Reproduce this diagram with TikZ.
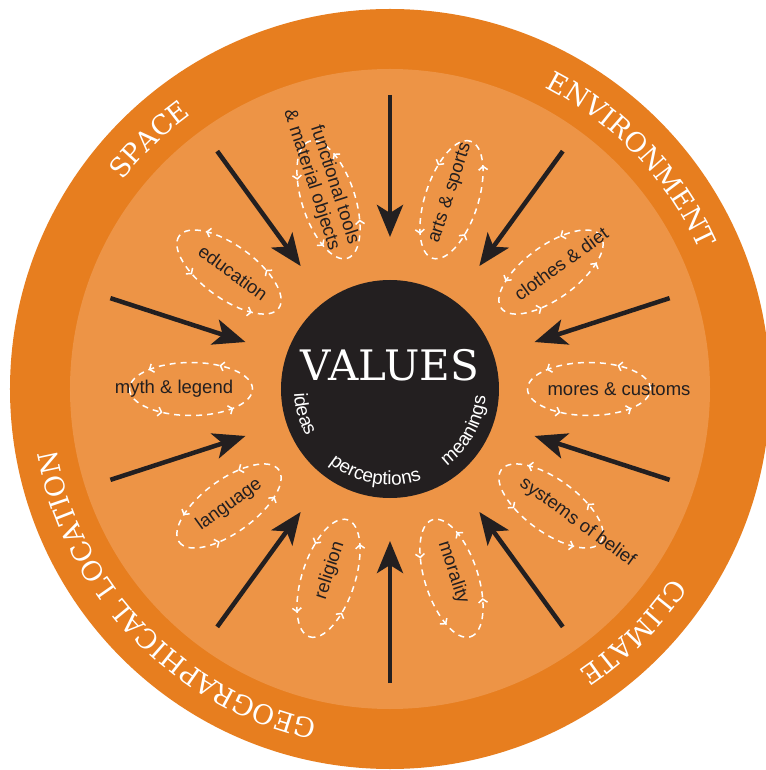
\documentclass[tikz,border=0pt]{standalone}
\usepackage{fontspec}
\setmainfont{DejaVu Serif}
\setsansfont{Liberation Sans}
\usetikzlibrary{arrows.meta, decorations.text, decorations.markings, calc}
\definecolor{ringorange}{HTML}{E77E1F}
\definecolor{fieldorange}{HTML}{ED9446}
\definecolor{valueblack}{HTML}{231F20}

\begin{document}
\begin{tikzpicture}[x=1pt, y=1pt,
  inward/.style={valueblack, line width=4.5pt, -{Stealth[length=32pt, width=26pt, inset=8pt]}},
  loop/.style={white, line width=1.5pt, dash pattern=on 6pt off 5pt,
    postaction={decorate},
    decoration={markings,
      mark=at position 0.15 with {\arrow[white]{Straight Barb[length=3.5pt, width=9pt]}},
      mark=at position 0.40 with {\arrow[white]{Straight Barb[length=3.5pt, width=9pt]}},
      mark=at position 0.65 with {\arrow[white]{Straight Barb[length=3.5pt, width=9pt]}},
      mark=at position 0.90 with {\arrow[white]{Straight Barb[length=3.5pt, width=9pt]}}}},
  item/.style={text=valueblack, font=\sffamily\fontsize{18.5}{20.5}\selectfont, inner sep=0pt}
  ]
  \useasboundingbox (-390,-381) rectangle (375,389);

  % rings
  \fill[ringorange] (0,0) circle (380);
  \fill[fieldorange] (0,0) circle (320);
  \node[circle, fill=valueblack, minimum size=218pt, inner sep=0pt] (values) at (0,0) {};
  \node[white, font=\fontsize{42}{42}\selectfont, inner sep=0pt] (title) at (0,24) {VALUES};

  % outer ring labels
  \foreach \c/\word in {43.5/ENVIRONMENT, 134/SPACE, -45/CLIMATE, -136/GEOGRAPHICAL LOCATION}
    \path[decorate, decoration={text along path, text align=center, text color=white,
      text={|\fontsize{27}{27}\selectfont|\word}}]
      (\c+45:339) arc[start angle=\c+45, end angle=\c-45, radius=339];

  % words round the centre
  \foreach \c/\word in {-164/ideas, -100/perceptions, -29/meanings}
    \path[decorate, decoration={text along path, text align=center, text color=white,
      text={|\sffamily\fontsize{19}{19}\selectfont|\word}}]
      (\c-30:96) arc[start angle=\c-30, end angle=\c+30, radius=96];

  % arrows
  \foreach \a [count=\i] in {90,126,...,414} {
    \coordinate (from-\i) at (\a:294);
    \coordinate (to-\i) at (\a:152);
    \draw[inward] (from-\i) -- (to-\i);
  }

  % dashed loops
  \foreach \a in {108,144,...,432}
    \draw[loop, rotate around={\a:(\a:199)}] (\a:199) ellipse (61.5 and 26.5);

  % labels
  \foreach \a/\r/\t/\txt [count=\i] in {
      108/223/-72/{functional tools\\\& material objects},
      72.9/205/72/{arts \& sports},
      36.2/212/36/{clothes \& diet},
      0/229/0/{mores \& customs},
      -35.4/230/-36/{systems of belief},
      -71/194/-72/{morality},
      -108.3/191/72/{religion},
      -144.3/198/36/{language},
      180/216/0/{myth \& legend},
      143.5/195/-36/{education}}
    \node[item, rotate=\t, align=right] (item-\i) at (\a:\r) {\txt};
\end{tikzpicture}
\end{document}
